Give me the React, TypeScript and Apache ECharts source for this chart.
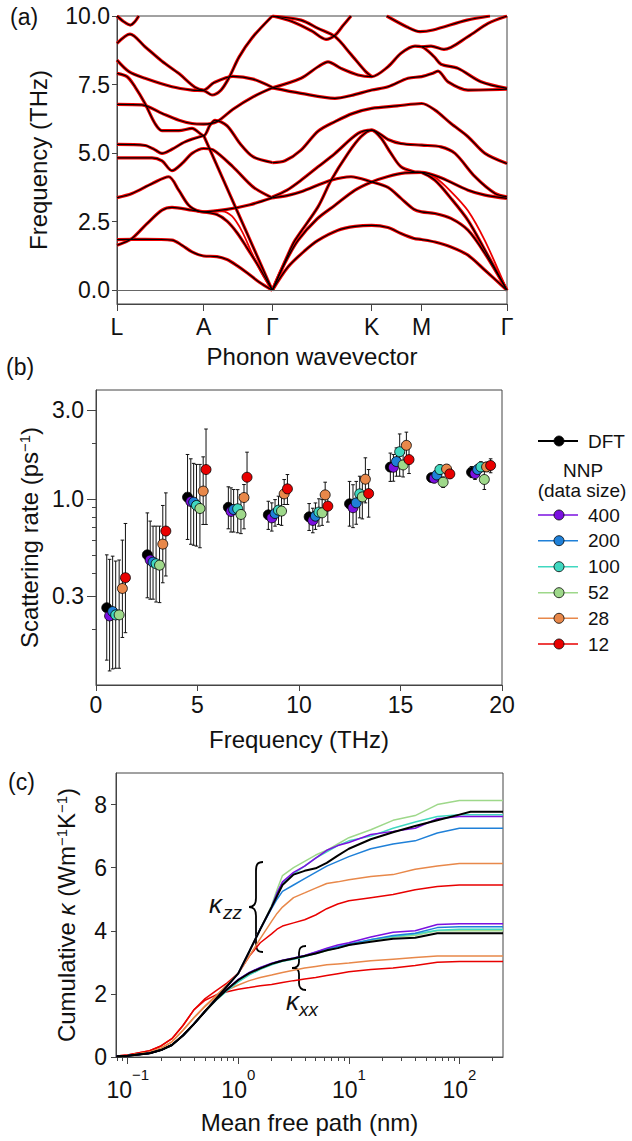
import React, { useEffect, useRef } from 'react';
import * as echarts from 'echarts';

const FONT = '"Liberation Sans", Arial, Helvetica, sans-serif';
const AXIS_COLOR = '#444';

// ---------------- Panel (a): phonon dispersion ----------------
const kPointPos = [0, 86.7, 155.3, 254.7, 304.7, 390];
const kPointLabels = ['L', 'A', 'Γ', 'K', 'M', 'Γ'];
const freqTicksA = [0, 2.5, 5, 7.5, 10];

// DFT branches: [path coordinate, frequency (THz)]
const dftBands: number[][][] = [
  [[0, 1.85], [28, 1.86], [55, 1.83], [65, 1.64], [75, 1.4], [86.7, 1.25], [100, 1.23], [110, 1.12], [120, 0.9], [130, 0.64], [142, 0.3], [155.3, 0]],
  [[0, 1.64], [15, 1.89], [30, 2.43], [45, 2.92], [55, 3.02], [75, 2.92], [86.7, 2.86], [100, 2.76], [110, 2.52], [120, 2.1], [130, 1.55], [142, 0.85], [155.3, 0]],
  [[0, 3.38], [15, 3.53], [35, 3.89], [51.7, 4.14], [61.7, 3.65], [71.7, 3.1], [81.7, 2.88], [86.7, 2.86], [110, 2.95], [133, 3.12], [155.3, 3.37]],
  [[0, 4.83], [35, 4.83], [45, 4.72], [55, 4.36], [65, 4.62], [75, 4.99], [86.7, 5.17], [96, 5.12], [116, 4.5], [136, 3.77], [155.3, 3.37]],
  [[0, 5.32], [28, 5.28], [38, 5.12], [45, 4.99], [55, 5.14], [68, 5.41], [86.7, 5.64]],
  [[86.7, 5.64], [121, 2.82], [155.3, 0]],
  [[0, 6.78], [25, 6.76], [45, 6.45], [62, 6.2], [75, 6.08], [86.7, 6.06], [100, 6.15], [116, 6.6], [136, 7.05], [155.3, 7.38]],
  [[0, 7.91], [10, 7.79], [18, 7.42], [28, 6.81], [38, 6.08], [45, 5.82], [62, 5.82], [75, 5.9], [86.7, 5.64], [93, 6.02], [98, 6.2], [110, 6.0], [123, 5.35], [136, 4.87], [155.3, 4.66]],
  [[0, 8.39], [12, 7.97], [28, 7.73], [55, 7.42], [75, 7.3], [86.7, 7.28], [95, 7.12], [104, 7.3], [112, 7.75], [122, 8.5], [135, 9.2], [155.3, 10]],
  [[0, 9.0], [13, 9.34], [28, 8.88], [45, 8.35], [62, 7.9], [78, 7.4], [86.7, 7.3], [97, 7.57], [116, 7.8], [136, 7.7], [155.3, 7.4]],
  [[0, 10], [6.5, 9.8], [13.3, 9.67], [18, 9.8], [21.7, 10]],
  [[155.3, 0], [171, 0.85], [188, 1.45], [201, 1.82], [221, 2.19], [238, 2.33], [254.7, 2.37], [271, 2.29], [284, 2.07], [297, 1.89], [304.7, 1.85], [318, 1.76], [334, 1.58], [351, 1.28], [368, 0.73], [390, 0]],
  [[155.3, 0], [168, 1.0], [181, 1.82], [200, 2.6], [218, 3.1], [238, 3.65], [254.7, 3.95], [271, 4.15], [288, 4.28], [304.7, 4.3], [324, 4.1], [351, 3.65], [368, 3.47], [390, 3.35]],
  [[155.3, 3.37], [170, 3.45], [184, 3.59], [214, 4.01], [234, 4.14], [254.7, 3.95], [271, 3.75], [284, 3.35], [297, 2.95], [304.7, 2.86], [318, 2.8], [334, 2.62], [351, 2.19], [368, 1.34], [390, 0]],
  [[155.3, 0], [171, 1.3], [178, 1.82], [201, 3.04], [214, 4.0], [231, 4.99], [244, 5.6], [254.7, 5.84], [264, 5.55], [274, 4.99], [284, 4.5], [297, 4.32], [304.7, 4.29], [318, 4.01], [334, 3.35], [351, 2.55], [368, 1.46], [390, 0]],
  [[155.3, 3.4], [170, 3.65], [184, 4.01], [201, 4.5], [218, 4.99], [241, 5.72], [254.7, 5.84], [271, 5.5], [284, 5.35], [304.7, 5.29], [324, 5.23], [338, 4.99], [358, 4.14], [378, 3.53], [390, 3.41]],
  [[155.3, 4.65], [168, 4.72], [184, 5.11], [201, 5.8], [218, 6.15], [236, 6.45], [254.7, 6.63], [280, 6.72], [304.7, 6.81], [318, 6.57], [334, 6.08], [351, 5.6], [368, 4.99], [390, 4.62]],
  [[155.3, 7.38], [184, 7.18], [218, 7.0], [234, 7.1], [254.7, 7.3], [271, 7.42], [291, 7.73], [304.7, 7.79], [315, 7.9], [321, 7.99], [331, 7.6], [351, 7.3], [390, 7.33]],
  [[155.3, 7.38], [184, 7.73], [201, 8.15], [211, 8.33], [224, 8.09], [241, 7.85], [254.7, 7.79], [271, 8.15], [284, 8.64], [298, 8.9], [304.7, 8.88], [317, 8.52], [324, 8.24], [341, 8.09], [364, 7.6], [390, 7.36]],
  [[155.3, 10], [184, 9.85], [201, 9.55], [218, 9.25], [234, 8.6], [248, 8.0], [254.7, 7.79]],
  [[155.3, 10], [175, 9.8], [195, 9.45], [209, 9.15], [218, 9.3], [226, 9.65], [234, 10]],
  [[269.7, 10], [290, 9.6], [303, 9.43], [316, 9.49], [350, 9.85], [373, 10]],
  [[304.7, 8.88], [314, 8.9], [327, 8.78], [351, 9.25], [371, 9.73], [390, 10]],
];
// NNP (data size 12) branches that visibly depart from DFT
const nnp12Deviations: number[][][] = [
  [[86.7, 2.86], [105, 2.88], [115, 2.7], [125, 2.15], [135, 1.35], [145, 0.6], [155.3, 0]],
  [[304.7, 4.32], [318, 4.12], [334, 3.6], [351, 2.9], [368, 1.8], [390, 0]],
];

// ---------------- Panel (b): scattering rates ----------------
const seriesNames = ['DFT', '400', '200', '100', '52', '28', '12'];
const seriesColors = ['#000000', '#7b10e0', '#1f80d8', '#40d8c0', '#9ed88a', '#e8884a', '#e80000'];
// [frequency (THz), rate (1/ps), lower error, upper error]
const rateDFT = [[0.53, 0.26, 0.136, 0.5], [2.53, 0.5, 0.294, 0.84], [4.51, 1.02, 0.605, 1.73], [6.52, 0.9, 0.69, 1.16], [8.49, 0.82, 0.685, 0.97], [10.5, 0.8, 0.676, 0.943], [12.49, 0.94, 0.713, 1.24], [14.5, 1.48, 1.24, 1.76], [16.53, 1.3, 1.24, 1.36], [18.5, 1.39, 1.3, 1.49]];
const rate400 = [[0.67, 0.235, 0.119, 0.473], [2.67, 0.469, 0.289, 0.759], [4.67, 0.967, 0.57, 1.64], [6.65, 0.855, 0.663, 1.145], [8.66, 0.79, 0.671, 0.951], [10.68, 0.765, 0.657, 0.89], [12.66, 0.895, 0.7, 1.19], [14.65, 1.477, 1.243, 1.73], [16.66, 1.29, 1.22, 1.36], [18.67, 1.366, 1.27, 1.48]];
const rate200 = [[0.82, 0.248, 0.122, 0.492], [2.81, 0.457, 0.289, 0.713], [4.81, 0.959, 0.563, 1.55], [6.78, 0.876, 0.663, 1.122], [8.82, 0.834, 0.713, 0.99], [10.81, 0.807, 0.685, 0.95], [12.82, 0.951, 0.73, 1.24], [14.8, 1.585, 1.322, 1.877], [16.79, 1.343, 1.27, 1.42], [18.8, 1.436, 1.34, 1.53]];
const rate100 = [[0.97, 0.238, 0.123, 0.463], [2.96, 0.448, 0.279, 0.713], [4.95, 0.921, 0.557, 1.53], [6.98, 0.884, 0.657, 1.12], [8.99, 0.869, 0.728, 1.033], [10.98, 0.848, 0.713, 1.0], [12.99, 1.063, 0.79, 1.322], [14.96, 1.79, 1.322, 2.23], [16.94, 1.436, 1.36, 1.52], [18.96, 1.483, 1.4, 1.58]];
const rate52 = [[1.14, 0.238, 0.123, 0.469], [3.13, 0.44, 0.277, 0.713], [5.12, 0.887, 0.546, 1.53], [7.14, 0.824, 0.65, 1.055], [9.14, 0.859, 0.72, 1.02], [11.14, 0.841, 0.72, 0.99], [13.12, 1.024, 0.78, 1.3], [15.13, 1.52, 1.31, 1.76], [17.1, 1.228, 1.15, 1.31], [19.13, 1.27, 1.122, 1.406]];
const rate28 = [[1.3, 0.33, 0.18, 0.6], [3.29, 0.571, 0.354, 0.921], [5.28, 1.1, 0.728, 1.68], [7.29, 1.016, 0.69, 1.193], [9.27, 1.063, 0.932, 1.269], [11.29, 1.05, 0.824, 1.228], [13.27, 1.274, 0.951, 1.66], [15.29, 1.937, 1.53, 2.28], [17.27, 1.445, 1.37, 1.52], [19.24, 1.483, 1.4, 1.57]];
const rate12 = [[1.45, 0.377, 0.191, 0.737], [3.44, 0.671, 0.385, 1.076], [5.42, 1.436, 0.728, 2.37], [7.44, 1.306, 1.012, 1.78], [9.43, 1.131, 0.932, 1.35], [11.42, 0.913, 0.75, 1.076], [13.43, 1.067, 0.797, 1.436], [15.42, 1.624, 1.367, 1.915], [17.43, 1.36, 1.29, 1.44], [19.44, 1.51, 1.38, 1.64]];
const rateSets = [rateDFT, rate400, rate200, rate100, rate52, rate28, rate12];
const rateMajorTicks = [0.3, 1, 3];
const rateMinorTicks = [0.2, 0.4, 0.5, 0.6, 0.7, 0.8, 0.9, 2];

// ---------------- Panel (c): cumulative kappa ----------------
const mfpNm = [0.079, 0.1, 0.158, 0.2, 0.251, 0.316, 0.398, 0.501, 0.631, 0.794, 1.0, 1.26, 1.58, 2.0, 2.24, 2.51, 3.16, 3.98, 5.01, 6.31, 7.94, 10, 15.8, 25.1, 39.8, 63.1, 100, 126, 248];
const kzzDFT = [0.02, 0.04, 0.12, 0.22, 0.38, 0.68, 1.05, 1.45, 1.85, 2.25, 2.65, 3.35, 4.05, 4.75, 5.1, 5.45, 5.78, 5.9, 5.98, 6.15, 6.38, 6.6, 6.9, 7.12, 7.32, 7.5, 7.68, 7.77, 7.77];
const kzz400 = [0.02, 0.04, 0.12, 0.22, 0.38, 0.68, 1.05, 1.45, 1.85, 2.25, 2.65, 3.35, 4.05, 4.75, 5.2, 5.55, 5.85, 6.05, 6.3, 6.55, 6.7, 6.8, 7.05, 7.15, 7.25, 7.55, 7.62, 7.62, 7.62];
const kzz200 = [0.02, 0.04, 0.12, 0.22, 0.38, 0.68, 1.05, 1.45, 1.85, 2.25, 2.65, 3.35, 4.05, 4.7, 5.0, 5.25, 5.45, 5.65, 5.85, 6.05, 6.2, 6.35, 6.6, 6.75, 6.85, 7.1, 7.25, 7.25, 7.25];
const kzz100 = [0.02, 0.04, 0.12, 0.22, 0.38, 0.68, 1.05, 1.45, 1.85, 2.25, 2.65, 3.35, 4.05, 4.75, 5.2, 5.5, 5.8, 6.05, 6.3, 6.5, 6.7, 6.85, 7.0, 7.25, 7.45, 7.62, 7.68, 7.68, 7.68];
const kzz52 = [0.02, 0.04, 0.12, 0.22, 0.38, 0.68, 1.05, 1.45, 1.85, 2.25, 2.65, 3.35, 4.05, 4.8, 5.3, 5.75, 6.0, 6.2, 6.4, 6.55, 6.75, 6.95, 7.2, 7.5, 7.65, 8.0, 8.13, 8.13, 8.13];
const kzz28 = [0.02, 0.05, 0.15, 0.28, 0.48, 0.85, 1.25, 1.62, 1.95, 2.3, 2.65, 3.2, 3.75, 4.3, 4.55, 4.75, 5.05, 5.2, 5.35, 5.5, 5.55, 5.62, 5.72, 5.78, 5.95, 6.05, 6.13, 6.13, 6.13];
const kzz12 = [0.03, 0.06, 0.2, 0.35, 0.58, 1.0, 1.5, 1.85, 2.1, 2.35, 2.65, 3.2, 3.62, 3.9, 4.05, 4.15, 4.25, 4.35, 4.5, 4.7, 4.85, 4.95, 5.05, 5.15, 5.3, 5.4, 5.45, 5.45, 5.45];
const kxxDFT = [0.02, 0.04, 0.12, 0.22, 0.38, 0.68, 1.05, 1.45, 1.82, 2.15, 2.44, 2.66, 2.81, 2.95, 3.0, 3.05, 3.12, 3.2, 3.28, 3.38, 3.45, 3.55, 3.65, 3.75, 3.78, 3.92, 3.92, 3.92, 3.92];
const kxx400 = [0.02, 0.04, 0.12, 0.22, 0.38, 0.68, 1.05, 1.45, 1.82, 2.15, 2.46, 2.68, 2.84, 2.97, 3.02, 3.07, 3.14, 3.22, 3.33, 3.45, 3.55, 3.62, 3.8, 3.95, 4.0, 4.2, 4.22, 4.22, 4.22];
const kxx200 = [0.02, 0.04, 0.12, 0.22, 0.38, 0.68, 1.05, 1.45, 1.82, 2.15, 2.45, 2.67, 2.83, 2.96, 3.01, 3.06, 3.13, 3.21, 3.32, 3.42, 3.5, 3.58, 3.72, 3.85, 3.92, 4.1, 4.13, 4.13, 4.13];
const kxx100 = [0.02, 0.04, 0.12, 0.22, 0.38, 0.68, 1.05, 1.45, 1.8, 2.1, 2.38, 2.6, 2.78, 2.92, 2.98, 3.03, 3.1, 3.18, 3.28, 3.38, 3.47, 3.55, 3.72, 3.82, 3.9, 4.02, 4.05, 4.05, 4.05];
const kxx52 = [0.02, 0.04, 0.12, 0.22, 0.38, 0.68, 1.05, 1.45, 1.8, 2.12, 2.4, 2.62, 2.79, 2.93, 2.99, 3.04, 3.11, 3.19, 3.28, 3.37, 3.46, 3.55, 3.7, 3.8, 3.85, 4.0, 4.0, 4.0, 4.0];
const kxx28 = [0.02, 0.05, 0.15, 0.28, 0.48, 0.85, 1.25, 1.6, 1.92, 2.12, 2.28, 2.42, 2.52, 2.6, 2.64, 2.68, 2.75, 2.82, 2.87, 2.92, 2.95, 2.98, 3.05, 3.1, 3.15, 3.2, 3.2, 3.2, 3.2];
const kxx12 = [0.03, 0.06, 0.2, 0.35, 0.58, 1.0, 1.5, 1.8, 1.97, 2.07, 2.15, 2.2, 2.26, 2.3, 2.33, 2.36, 2.42, 2.47, 2.52, 2.58, 2.64, 2.7, 2.77, 2.82, 2.9, 3.0, 3.03, 3.03, 3.03];
const kzzSets = [kzzDFT, kzz400, kzz200, kzz100, kzz52, kzz28, kzz12];
const kxxSets = [kxxDFT, kxx400, kxx200, kxx100, kxx52, kxx28, kxx12];
const kappaTicks = [0, 2, 4, 6, 8];
const mfpMajorTicks = [0.1, 1, 10, 100];
const mfpMinorTicks = [0.08, 0.09, 0.2, 0.3, 0.4, 0.5, 0.6, 0.7, 0.8, 0.9, 2, 3, 4, 5, 6, 7, 8, 9, 20, 30, 40, 50, 60, 70, 80, 90, 200];

// curly braces used as annotations
echarts.graphic.registerShape(
  'braceZZ',
  echarts.graphic.extendPath('M14 0 C8 0 7 3 7 9 L7 36 C7 42 5 45 0 45 C5 45 7 48 7 54 L7 81 C7 87 8 90 14 90', {})
);
echarts.graphic.registerShape(
  'braceXX',
  echarts.graphic.extendPath('M14 0 C9 0 7 2 7 7 L7 16 C7 20 5 22 0 22 C5 22 7 24 7 28 L7 37 C7 42 9 44 14 44', {})
);

const tickLabelStyle = { fontSize: 23, color: '#111', fontFamily: FONT };
const nameStyle = { fontSize: 24, color: '#111', fontFamily: FONT };

function buildOption() {
  const series: any[] = [];

  // Panel (a)
  dftBands.forEach((pts, i) => {
    series.push({
      type: 'line', xAxisIndex: 0, yAxisIndex: 0, data: pts, symbol: 'none', smooth: 0.3,
      lineStyle: { color: '#ee0000', width: 3.2 }, z: 2, silent: true,
      markLine: i === 0 ? {
        silent: true, symbol: 'none', label: { show: false },
        lineStyle: { color: '#666', width: 1, type: 'solid' }, data: [{ yAxis: 0 }],
      } : undefined,
    });
  });
  nnp12Deviations.forEach((pts) => {
    series.push({
      type: 'line', xAxisIndex: 0, yAxisIndex: 0, data: pts, symbol: 'none', smooth: 0.3,
      lineStyle: { color: '#ee0000', width: 1.8 }, z: 2, silent: true,
    });
  });
  dftBands.forEach((pts) => {
    series.push({
      type: 'line', xAxisIndex: 0, yAxisIndex: 0, data: pts, symbol: 'none', smooth: 0.3,
      lineStyle: { color: '#000', width: 1.2 }, z: 3, silent: true,
    });
  });

  // Panel (b) error bars
  const errData: number[][] = [];
  rateSets.forEach((set) => set.forEach((d) => errData.push(d)));
  series.push({
    type: 'custom', xAxisIndex: 1, yAxisIndex: 1, data: errData, silent: true, z: 2,
    encode: { x: 0, y: [1, 2, 3] },
    renderItem: (params: any, api: any) => {
      const x = api.value(0);
      const a = api.coord([x, api.value(2)]);
      const b = api.coord([x, api.value(3)]);
      const w = 1.8;
      const st = { stroke: '#111', lineWidth: 1 };
      return {
        type: 'group',
        children: [
          { type: 'line', shape: { x1: a[0], y1: a[1], x2: b[0], y2: b[1] }, style: st },
          { type: 'line', shape: { x1: a[0] - w, y1: a[1], x2: a[0] + w, y2: a[1] }, style: st },
          { type: 'line', shape: { x1: b[0] - w, y1: b[1], x2: b[0] + w, y2: b[1] }, style: st },
        ],
      };
    },
  });
  rateSets.forEach((set, i) => {
    series.push({
      type: 'scatter', name: seriesNames[i], xAxisIndex: 1, yAxisIndex: 1, z: 3,
      data: set.map((d) => [d[0], d[1]]), symbol: 'circle', symbolSize: 10,
      itemStyle: { color: seriesColors[i], borderColor: '#000', borderWidth: 0.8, opacity: 1 },
    });
  });

  // Panel (c)
  const drawOrder = [6, 5, 4, 3, 2, 1, 0];
  drawOrder.forEach((i) => {
    [kzzSets[i], kxxSets[i]].forEach((vals) => {
      series.push({
        type: 'line', xAxisIndex: 2, yAxisIndex: 3, symbol: 'none', silent: true,
        data: mfpNm.map((m, j) => [m, vals[j]]),
        lineStyle: { color: seriesColors[i], width: i === 0 ? 2 : 1.5 },
        z: 2,
      });
    });
  });

  // legend (b) and annotations
  const graphic: any[] = [];
  const legendY = [441, 515, 540.7, 566.7, 592.7, 618.3, 644];
  seriesNames.forEach((nm, i) => {
    const y = legendY[i];
    graphic.push({ type: 'line', shape: { x1: 538, y1: y, x2: 578, y2: y }, style: { stroke: i === 0 ? '#000' : seriesColors[i], lineWidth: i === 0 ? 2 : 1.6 } });
    graphic.push({ type: 'circle', shape: { cx: 559, cy: y, r: 5 }, style: { fill: seriesColors[i], stroke: '#000', lineWidth: 0.8 } });
    graphic.push({ type: 'text', x: 588, y, style: { text: nm, fontSize: 19, fontFamily: FONT, fill: '#111', align: 'left', verticalAlign: 'middle', textAlign: 'left', textVerticalAlign: 'middle' } });
  });
  graphic.push({ type: 'text', x: 583, y: 470, style: { text: 'NNP', fontSize: 19, fontFamily: FONT, fill: '#111', align: 'center', verticalAlign: 'middle', textAlign: 'center', textVerticalAlign: 'middle' } });
  graphic.push({ type: 'text', x: 582, y: 490, style: { text: '(data size)', fontSize: 19, fontFamily: FONT, fill: '#111', align: 'center', verticalAlign: 'middle', textAlign: 'center', textVerticalAlign: 'middle' } });

  const panelLabel = (t: string, x: number, y: number) => ({ type: 'text', x, y, style: { text: t, fontSize: 23, fontFamily: FONT, fill: '#111', align: 'left', verticalAlign: 'middle', textAlign: 'left', textVerticalAlign: 'middle' } });
  graphic.push(panelLabel('(a)', 10, 17));
  graphic.push(panelLabel('(b)', 6, 367));
  graphic.push(panelLabel('(c)', 8, 782));

  graphic.push({ type: 'braceZZ', x: 249, y: 862, style: { stroke: '#000', fill: null, lineWidth: 1.8 } });
  graphic.push({ type: 'braceXX', x: 292, y: 946, style: { stroke: '#000', fill: null, lineWidth: 1.8 } });
  const ital = (t: string, x: number, y: number, s: number) => ({ type: 'text', x, y, style: { text: t, fontSize: s, fontStyle: 'italic', fontFamily: FONT, fill: '#111', align: 'left', verticalAlign: 'middle', textAlign: 'left', textVerticalAlign: 'middle' } });
  graphic.push(ital('κ', 209, 904, 26));
  graphic.push(ital('zz', 223, 912, 19));
  graphic.push(ital('κ', 286, 1001, 26));
  graphic.push(ital('xx', 299, 1009, 19));

  const supRich = {
    s: { fontSize: 15, fontFamily: FONT, color: '#111', verticalAlign: 'top', lineHeight: 15 },
    i: { fontSize: 24, fontFamily: FONT, color: '#111', fontStyle: 'italic' },
  };

  return {
    animation: false,
    backgroundColor: '#fff',
    textStyle: { fontFamily: FONT },
    grid: [
      { left: 117, top: 16, width: 390, height: 288, show: true, borderColor: AXIS_COLOR, borderWidth: 1 },
      { left: 96, top: 390, width: 406, height: 295, show: true, borderColor: AXIS_COLOR, borderWidth: 1 },
      { left: 116, top: 773, width: 387, height: 284, show: true, borderColor: AXIS_COLOR, borderWidth: 1 },
    ],
    xAxis: [
      {
        gridIndex: 0, type: 'value', min: 0, max: 390, position: 'bottom',
        name: 'Phonon wavevector', nameLocation: 'middle', nameGap: 40, nameTextStyle: nameStyle,
        axisLine: { onZero: false, lineStyle: { color: AXIS_COLOR } },
        axisTick: { customValues: kPointPos, length: 7, lineStyle: { color: AXIS_COLOR } },
        axisLabel: {
          customValues: kPointPos, margin: 11, ...tickLabelStyle, showMinLabel: true, showMaxLabel: true,
          formatter: (v: number) => { const k = kPointPos.findIndex((p) => Math.abs(p - v) < 0.01); return k >= 0 ? kPointLabels[k] : ''; },
        },
        splitLine: { show: false },
      },
      {
        gridIndex: 1, type: 'value', min: 0, max: 20, interval: 5, position: 'bottom',
        name: 'Frequency (THz)', nameLocation: 'middle', nameGap: 42, nameTextStyle: nameStyle,
        axisLine: { onZero: false, lineStyle: { color: AXIS_COLOR } },
        axisTick: { length: 6, lineStyle: { color: AXIS_COLOR } },
        axisLabel: { margin: 8, ...tickLabelStyle },
        splitLine: { show: false },
      },
      {
        gridIndex: 2, type: 'log', logBase: 10, min: 0.0783, max: 248, position: 'bottom',
        name: 'Mean free path (nm)', nameLocation: 'middle', nameGap: 53, nameTextStyle: nameStyle,
        axisLine: { onZero: false, lineStyle: { color: AXIS_COLOR } },
        axisTick: { customValues: mfpMajorTicks, length: 7, lineStyle: { color: AXIS_COLOR } },
        axisLabel: {
          customValues: mfpMajorTicks, margin: 10, showMinLabel: true, showMaxLabel: true,
          formatter: (v: number) => { const e = Math.round(Math.log10(v)); return `{b|10}{s|${e < 0 ? '−' + -e : e}}`; },
          rich: {
            b: { fontSize: 23, fontFamily: FONT, color: '#111', lineHeight: 34, verticalAlign: 'bottom' },
            s: { fontSize: 15, fontFamily: FONT, color: '#111', lineHeight: 15, verticalAlign: 'top' },
          },
        },
        splitLine: { show: false },
      },
      {
        gridIndex: 2, type: 'log', logBase: 10, min: 0.0783, max: 248, position: 'bottom',
        axisLine: { show: false, onZero: false },
        axisTick: { customValues: mfpMinorTicks, length: 4, lineStyle: { color: AXIS_COLOR } },
        axisLabel: { show: false },
        splitLine: { show: false },
      },
    ],
    yAxis: [
      {
        gridIndex: 0, type: 'value', min: -0.5, max: 10, position: 'left',
        name: 'Frequency (THz)', nameLocation: 'middle', nameGap: 67, nameRotate: 90, nameTextStyle: nameStyle,
        axisLine: { show: true, onZero: false, lineStyle: { color: AXIS_COLOR } },
        axisTick: { show: true, customValues: freqTicksA, length: 5, lineStyle: { color: AXIS_COLOR } },
        axisLabel: { customValues: freqTicksA, margin: 7, ...tickLabelStyle, formatter: (v: number) => v.toFixed(1) },
        splitLine: { show: false },
      },
      {
        gridIndex: 1, type: 'log', logBase: 10, min: 0.1, max: 3.84, position: 'left',
        name: 'Scattering rate (ps{s|−1})', nameLocation: 'middle', nameGap: 50, nameRotate: 90,
        nameTextStyle: { ...nameStyle, rich: supRich },
        axisLine: { show: true, onZero: false, lineStyle: { color: AXIS_COLOR } },
        axisTick: { show: true, customValues: rateMajorTicks, length: 9, lineStyle: { color: AXIS_COLOR } },
        axisLabel: { customValues: rateMajorTicks, margin: 12, ...tickLabelStyle, formatter: (v: number) => v.toFixed(1) },
        splitLine: { show: false },
        minorTick: { show: false },
      },
      {
        gridIndex: 1, type: 'log', logBase: 10, min: 0.1, max: 3.84, position: 'left',
        axisLine: { show: false, onZero: false },
        axisTick: { show: true, customValues: rateMinorTicks, length: 4, lineStyle: { color: AXIS_COLOR } },
        axisLabel: { show: false },
        splitLine: { show: false },
      },
      {
        gridIndex: 2, type: 'value', min: 0, max: 9, position: 'left',
        name: 'Cumulative {i|κ} (Wm{s|−1}K{s|−1})', nameLocation: 'middle', nameGap: 38, nameRotate: 90,
        nameTextStyle: { ...nameStyle, rich: supRich },
        axisLine: { show: true, onZero: false, lineStyle: { color: AXIS_COLOR } },
        axisTick: { show: true, customValues: kappaTicks, length: 5, lineStyle: { color: AXIS_COLOR } },
        axisLabel: { customValues: kappaTicks, margin: 9, ...tickLabelStyle },
        splitLine: { show: false },
      },
    ],
    series,
    graphic,
  };
}

export default function App() {
  const ref = useRef<HTMLDivElement>(null);
  useEffect(() => {
    if (!ref.current) return;
    const chart = echarts.init(ref.current, undefined, { renderer: 'svg' });
    chart.setOption(buildOption() as any);
    return () => chart.dispose();
  }, []);
  return <div ref={ref} style={{ position: 'absolute', left: 0, top: 0, width: 632, height: 1141, background: '#fff' }} />;
}
